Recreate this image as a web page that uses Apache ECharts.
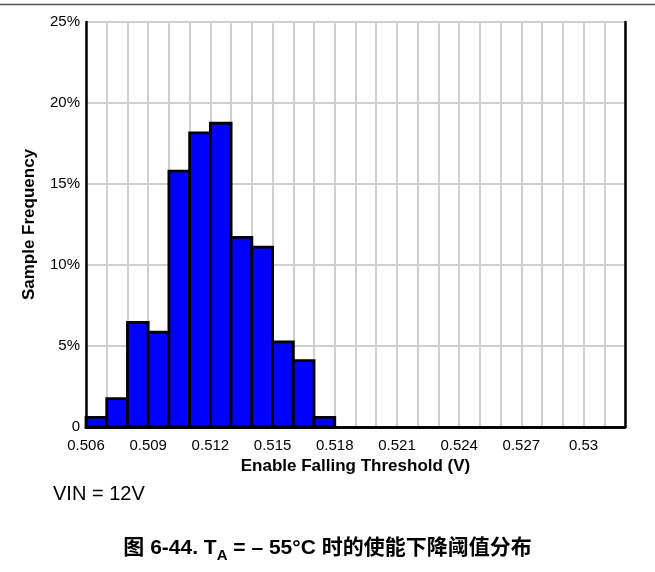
<!DOCTYPE html>
<html>
<head>
<meta charset="utf-8">
<script src="https://cdn.jsdelivr.net/npm/echarts@6/dist/echarts.min.js"></script>
<style>
html,body{margin:0;padding:0;background:#fff;}
#chart{width:655px;height:572px;}
</style>
</head>
<body>
<div id="chart"></div>
<script>
// Histogram bins: start of each 0.001 V bin
const binStarts = [0.506, 0.507, 0.508, 0.509, 0.510, 0.511, 0.512, 0.513, 0.514, 0.515, 0.516, 0.517];
// Sample frequency (%) per bin
const frequency = [0.6, 1.75, 6.45, 5.85, 15.8, 18.15, 18.75, 11.7, 11.1, 5.25, 4.1, 0.6];
const binWidth = 0.001;
// Axis tick labels
const xTickLabels = ['0.506', '0.509', '0.512', '0.515', '0.518', '0.521', '0.524', '0.527', '0.53'];
const yTickLabels = ['0', '5%', '10%', '15%', '20%', '25%'];

const FONT = "'Liberation Sans', Arial, 'Noto Sans CJK SC', sans-serif";
const chart = echarts.init(document.getElementById('chart'), null, {renderer: 'canvas'});

const data = binStarts.map((x, i) => [x, frequency[i]]);

const frameAxisLine = {show: true, lineStyle: {color: '#000', width: 2.5}};

const option = {
  backgroundColor: '#fff',
  animation: false,
  grid: {left: 86, right: 30, top: 22, bottom: 145},
  xAxis: [{
    type: 'value', min: 0.506, max: 0.532, interval: 0.001,
    name: 'Enable Falling Threshold (V)', nameLocation: 'middle', nameGap: 26,
    nameTextStyle: {fontFamily: FONT, fontWeight: 'bold', fontSize: 17, color: '#000'},
    axisLine: {show: false},
    axisTick: {show: false},
    axisLabel: {
      fontFamily: FONT, fontSize: 15, color: '#000', margin: 11, showMinLabel: true, showMaxLabel: true,
      formatter: function (v) {
        const s = parseFloat(v.toFixed(3)).toString();
        return xTickLabels.indexOf(s) >= 0 ? s : '';
      }
    },
    splitLine: {show: true, lineStyle: {color: '#d0d0d0', width: 2}},
    z: 0
  }, {
    type: 'value', position: 'top', min: 0.506, max: 0.532,
    axisLine: frameAxisLine, axisTick: {show: false}, axisLabel: {show: false}, splitLine: {show: false}, z: 10
  }, {
    type: 'value', position: 'bottom', min: 0.506, max: 0.532,
    axisLine: frameAxisLine, axisTick: {show: false}, axisLabel: {show: false}, splitLine: {show: false}, z: 10
  }],
  yAxis: [{
    type: 'value', min: 0, max: 25, interval: 5,
    name: 'Sample Frequency', nameLocation: 'middle', nameGap: 48, nameRotate: 90,
    nameTextStyle: {fontFamily: FONT, fontWeight: 'bold', fontSize: 17, color: '#000'},
    axisLine: {show: false},
    axisTick: {show: false},
    axisLabel: {
      fontFamily: FONT, fontSize: 15, color: '#000', margin: 6,
      formatter: function (v) { return yTickLabels[Math.round(v / 5)]; }
    },
    splitLine: {show: true, lineStyle: {color: '#d0d0d0', width: 2}},
    z: 0
  }, {
    type: 'value', position: 'right', min: 0, max: 25,
    axisLine: frameAxisLine, axisTick: {show: false}, axisLabel: {show: false}, splitLine: {show: false}, z: 10
  }, {
    type: 'value', position: 'left', min: 0, max: 25,
    axisLine: frameAxisLine, axisTick: {show: false}, axisLabel: {show: false}, splitLine: {show: false}, z: 10
  }],
  series: [{
    type: 'custom',
    xAxisIndex: 0, yAxisIndex: 0,
    data: data,
    encode: {x: 0, y: 1},
    renderItem: function (params, api) {
      const x0 = api.value(0), y = api.value(1);
      const p0 = api.coord([x0, y]);
      const p1 = api.coord([x0 + binWidth, 0]);
      return {
        type: 'rect',
        shape: {x: p0[0], y: p0[1], width: p1[0] - p0[0], height: p1[1] - p0[1]},
        style: {fill: '#0000ff', stroke: '#000', lineWidth: 2.8}
      };
    },
    z: 3
  }],
  graphic: [
    {type: 'line', shape: {x1: 0, y1: 4.5, x2: 655, y2: 4.5}, style: {stroke: '#555', lineWidth: 1.5}, silent: true},
    {type: 'text', left: 53, top: 484, style: {text: 'VIN = 12V', font: '20px ' + FONT, fill: '#000'}},
    {type: 'text', left: 'center', top: 538, style: {
      text: '{n|图 6-44. T}{s|A}{n| = – 55°C 时的使能下降阈值分布}',
      fill: '#000',
      rich: {
        n: {fontFamily: FONT, fontWeight: 'bold', fontSize: 21, lineHeight: 30, verticalAlign: 'middle', fill: '#000'},
        s: {fontFamily: FONT, fontWeight: 'bold', fontSize: 15, lineHeight: 30, verticalAlign: 'bottom', fill: '#000'}
      }
    }}
  ]
};
chart.setOption(option);
</script>
</body>
</html>
